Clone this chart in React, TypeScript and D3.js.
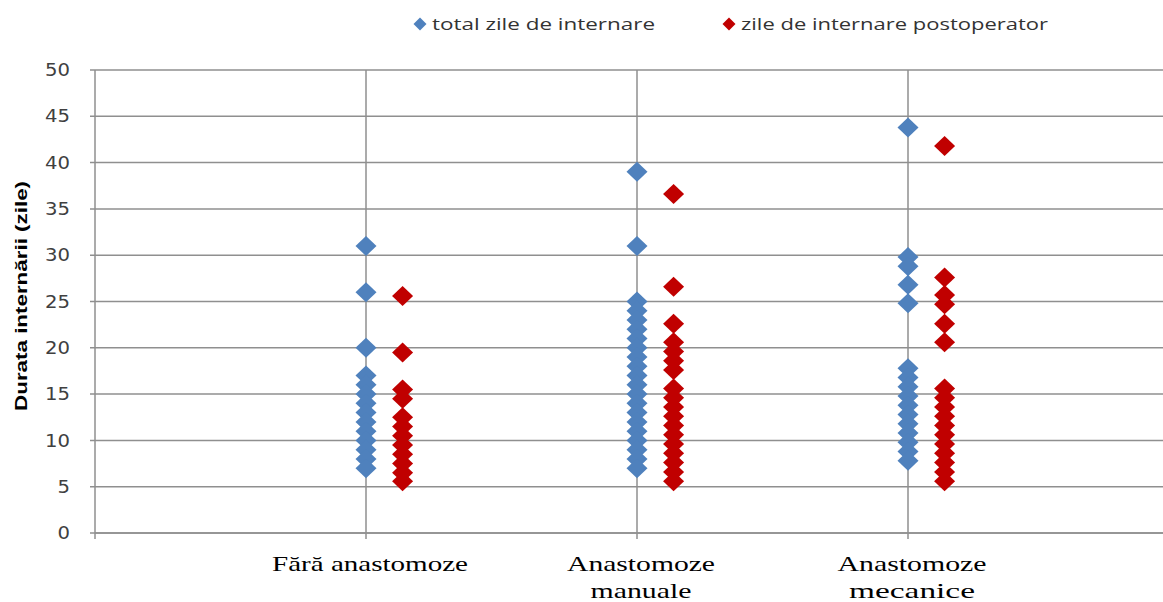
import React from "react";
import * as d3 from "d3";

// Category labels (one entry per line of the label)
const categoryLines: string[][] = [
  ["Fără anastomoze"],
  ["Anastomoze", "manuale"],
  ["Anastomoze", "mecanice"],
];

// Total hospital stay (days), per category
const totalFara = [31, 26, 20, 17, 16, 15, 14, 13, 12, 11, 10, 9, 8, 7];
const totalManuale = [39, 31, 25, 24, 23, 22, 21, 20, 19, 18, 17, 16, 15, 14, 13, 12, 11, 10, 9, 8, 7];
const totalMecanice = [43.8, 29.8, 28.8, 26.8, 24.8, 17.8, 16.8, 15.8, 14.8, 13.8, 12.8, 11.8, 10.8, 9.8, 8.8, 7.8];

// Post-operative stay (days), per category
const postFara = [25.6, 19.5, 15.5, 14.5, 12.5, 11.5, 10.5, 9.5, 8.5, 7.5, 6.5, 5.6];
const postManuale = [36.6, 26.6, 22.6, 20.6, 19.6, 18.6, 17.6, 15.6, 14.6, 13.6, 12.6, 11.6, 10.6, 9.6, 8.6, 7.6, 6.6, 5.6];
const postMecanice = [41.8, 27.6, 25.7, 24.7, 22.6, 20.6, 15.6, 14.6, 13.6, 12.6, 11.6, 10.6, 9.6, 8.6, 7.6, 6.6, 5.6];

const yTicks = [0, 5, 10, 15, 20, 25, 30, 35, 40, 45, 50];

const seriesNames = ["total zile de internare", "zile de internare postoperator"];
const seriesColors = ["#4f81bd", "#c00000"];

const W = 1163;
const H = 602;

const diamond = (cx: number, cy: number, hw: number, hh: number) => {
  const p = d3.path();
  p.moveTo(cx, cy - hh);
  p.lineTo(cx + hw, cy);
  p.lineTo(cx, cy + hh);
  p.lineTo(cx - hw, cy);
  p.closePath();
  return p.toString();
};

export default function App() {
  const x = d3.scaleLinear().domain([0, 4]).range([95, 1179]);
  const y = d3.scaleLinear().domain([0, 50]).range([533, 70]);

  const totals = [totalFara, totalManuale, totalMecanice];
  const posts = [postFara, postManuale, postMecanice];
  const postShift = 0.135; // second series drawn just right of the category line

  const grid = "#8f8f8f";
  const labelWidths: number[][] = [[196], [148, 101], [149, 126]];

  return (
    <svg
      width={W}
      height={H}
      style={{ position: "absolute", left: 0, top: 0, background: "#fff" }}
    >
      <rect x={0} y={0} width={W} height={H} fill="#fff" />

      {/* horizontal gridlines + left ticks */}
      {yTicks.map((t) => (
        <g key={"g" + t}>
          <line x1={x(0) - 5} x2={W} y1={y(t)} y2={y(t)} stroke={grid} strokeWidth={1.5} />
          <text
            x={70}
            y={y(t)}
            dy="0.36em"
            textAnchor="end"
            fontFamily="DejaVu Sans, Verdana, sans-serif"
            fontSize={17}
            fill="#404040"
            textLength={t >= 10 ? 25 : 12.5}
            lengthAdjust="spacingAndGlyphs"
          >
            {t}
          </text>
        </g>
      ))}

      {/* category gridlines */}
      {categoryLines.map((_, i) => (
        <line
          key={"v" + i}
          x1={x(i + 1)}
          x2={x(i + 1)}
          y1={y(50)}
          y2={y(0) + 6}
          stroke={grid}
          strokeWidth={1.5}
        />
      ))}

      {/* axes */}
      <line x1={x(0)} x2={x(0)} y1={y(50)} y2={y(0) + 6} stroke={grid} strokeWidth={1.5} />
      <line x1={x(0)} x2={W} y1={y(0)} y2={y(0)} stroke={grid} strokeWidth={1.5} />

      {/* category labels */}
      {categoryLines.map((lines, i) =>
        lines.map((ln, j) => (
          <text
            key={"c" + i + j}
            x={x(i + 1) + 4}
            y={571 + j * 27}
            textAnchor="middle"
            fontFamily="Liberation Serif, Times New Roman, serif"
            fontSize={22}
            fill="#000"
            textLength={labelWidths[i][j]}
            lengthAdjust="spacingAndGlyphs"
          >
            {ln}
          </text>
        ))
      )}

      {/* y axis title */}
      <text
        transform={`translate(27, ${y(25.6)}) rotate(-90)`}
        textAnchor="middle"
        fontFamily="Liberation Sans, Arial, sans-serif"
        fontWeight="bold"
        fontSize={17}
        fill="#000"
        textLength={230}
        lengthAdjust="spacingAndGlyphs"
      >
        Durata internării (zile)
      </text>

      {/* markers: total stay */}
      {totals.map((vals, i) =>
        vals.map((v, k) => (
          <path
            key={"t" + i + "-" + k}
            d={diamond(x(i + 1), y(v), 10.5, 10)}
            fill={seriesColors[0]}
          />
        ))
      )}

      {/* markers: post-operative stay */}
      {posts.map((vals, i) =>
        vals.map((v, k) => (
          <path
            key={"p" + i + "-" + k}
            d={diamond(x(i + 1 + postShift), y(v), 10.5, 10)}
            fill={seriesColors[1]}
          />
        ))
      )}

      {/* legend */}
      <path d={diamond(420, 24, 6.5, 6.5)} fill={seriesColors[0]} />
      <text
        x={432}
        y={24}
        dy="0.35em"
        fontFamily="Open Sans, Noto Sans, sans-serif"
        fontSize={17}
        fill="#333"
        textLength={223}
        lengthAdjust="spacingAndGlyphs"
      >
        {seriesNames[0]}
      </text>
      <path d={diamond(729, 24, 6.5, 6.5)} fill={seriesColors[1]} />
      <text
        x={741}
        y={24}
        dy="0.35em"
        fontFamily="Open Sans, Noto Sans, sans-serif"
        fontSize={17}
        fill="#333"
        textLength={307}
        lengthAdjust="spacingAndGlyphs"
      >
        {seriesNames[1]}
      </text>
    </svg>
  );
}
